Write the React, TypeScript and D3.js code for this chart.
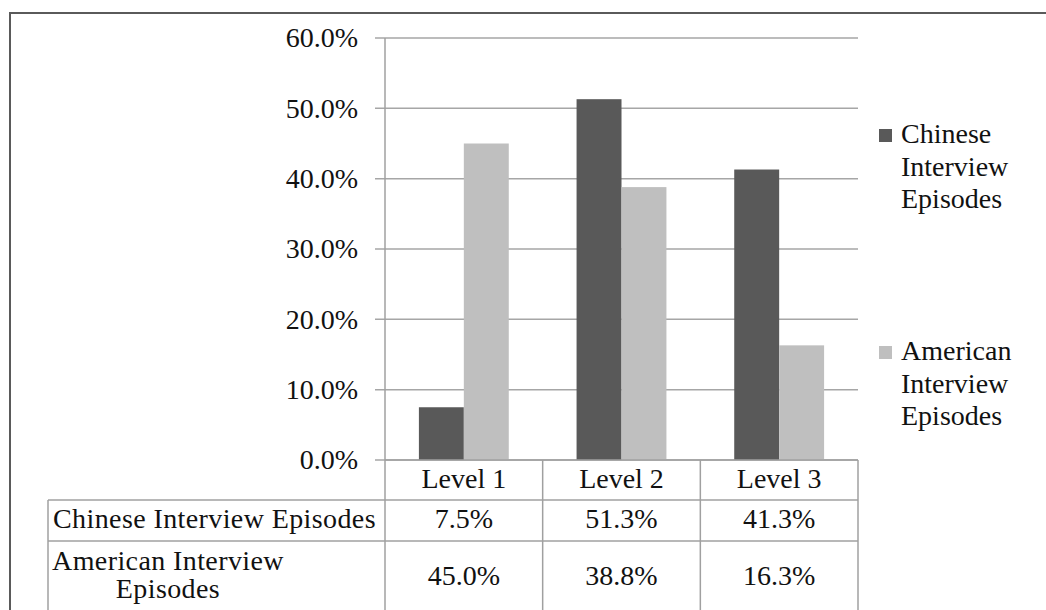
import * as d3 from 'd3';
import * as React from 'react';

// chart data
const levels = ['Level 1', 'Level 2', 'Level 3'];
const seriesNames = ['Chinese Interview Episodes', 'American Interview Episodes'];
const chineseValues = [7.5, 51.3, 41.3];
const americanValues = [45.0, 38.8, 16.3];
const yTicks = [0, 10, 20, 30, 40, 50, 60];
const colors = ['#595959', '#bfbfbf'];

const width = 1046;
const height = 610;
const font = 'Liberation Serif';
const textColor = '#111';
const gridColor = '#a6a6a6';
const tableColor = '#a0a0a0';

// plot box
const left = 385;
const right = 858;
const top = 38;
const bottom = 460;
const tableLeft = 48;
const row1 = 500;
const row2 = 541;

const pct = (d: number) => d3.format('.1f')(d) + '%';

export default function App() {
    const y = d3.scaleLinear().domain([0, 60]).range([bottom, top]);
    const x = d3.scaleBand<string>()
        .domain(levels)
        .range([left, right])
        .paddingInner(0.43)
        .paddingOuter(0.215);
    const inner = d3.scaleBand<number>()
        .domain([0, 1])
        .range([0, x.bandwidth()]);
    const step = x.step();
    const center = (l: string) => (x(l) as number) + x.bandwidth() / 2;
    const series = [chineseValues, americanValues];

    const legendLines = [
        ['Chinese', 'Interview', 'Episodes'],
        ['American', 'Interview', 'Episodes'],
    ];
    const legendTop = [143, 360];
    const rowY = [528, 585];

    return (
        <svg
            width={width}
            height={height}
            style={{ position: 'absolute', left: 0, top: 0, background: '#fff' }}
        >
            {/* outer frame, top and left edges only */}
            <path d={`M10,${height} V13 H${width}`} fill="none" stroke="#5a5a5a" strokeWidth={2} />

            {/* gridlines + y tick labels */}
            <g>
                {yTicks.map(t => (
                    <line key={t} x1={left - 10} x2={right} y1={y(t)} y2={y(t)}
                        stroke={gridColor} strokeWidth={1.5} />
                ))}
                {yTicks.map(t => (
                    <text key={t} x={358} y={y(t)} dy="0.33em" textAnchor="end" fill={textColor}
                        fontFamily={font} fontSize={28}>
                        {pct(t)}
                    </text>
                ))}
            </g>

            {/* bars */}
            {series.map((vals, si) => (
                <g key={si}>
                    {vals.map((v, i) => (
                        <rect key={i}
                            x={(x(levels[i]) as number) + (inner(si) as number)}
                            y={y(v)}
                            width={inner.bandwidth()}
                            height={bottom - y(v)}
                            fill={colors[si]} />
                    ))}
                </g>
            ))}

            {/* data table lines */}
            <g stroke={tableColor} strokeWidth={1.5}>
                <line x1={left} x2={left} y1={top} y2={height} />
                {levels.map((l, i) => (
                    <line key={l} x1={left + step * (i + 1)} x2={left + step * (i + 1)} y1={bottom} y2={height} />
                ))}
                <line x1={tableLeft} x2={tableLeft} y1={row1} y2={height} />
                <line x1={tableLeft} x2={right} y1={row1} y2={row1} />
                <line x1={tableLeft} x2={right} y1={row2} y2={row2} />
                <line x1={left} x2={right} y1={bottom} y2={bottom} />
            </g>

            {/* data table text */}
            <g fill={textColor} fontFamily={font} fontSize={28}>
                {levels.map(l => (
                    <text key={l} x={center(l)} y={488} textAnchor="middle">
                        {l}
                    </text>
                ))}
                <text x={53} y={528} letterSpacing={0.4}>{seriesNames[0]}</text>
                <text textAnchor="middle" letterSpacing={0.4}>
                    <tspan x={168} y={570}>American Interview</tspan>
                    <tspan x={168} y={598}>Episodes</tspan>
                </text>
                {series.map((vals, si) => vals.map((v, i) => (
                    <text key={`${si}-${i}`} x={center(levels[i])} y={rowY[si]} textAnchor="middle">
                        {pct(v)}
                    </text>
                )))}
            </g>

            {/* legend */}
            {legendLines.map((lines, si) => (
                <g key={si}>
                    <rect x={879} y={legendTop[si] - 14} width={13} height={13} fill={colors[si]} />
                    <text fill={textColor} fontFamily={font} fontSize={28}>
                        {lines.map((line, li) => (
                            <tspan key={li} x={901} y={legendTop[si] + li * 32.5}>{line}</tspan>
                        ))}
                    </text>
                </g>
            ))}
        </svg>
    );
}
